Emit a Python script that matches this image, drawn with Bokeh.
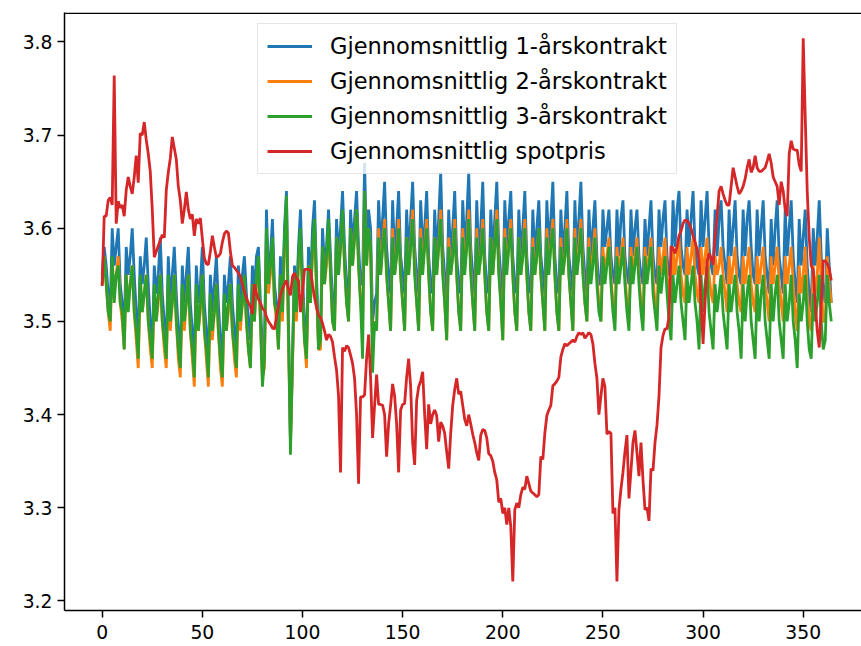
from bokeh.plotting import figure
from bokeh.models import Range1d, Span, Legend, LegendItem, FixedTicker
from bokeh.embed import file_html
from bokeh.resources import INLINE

days = list(range(365))

spot = [
3.538, 3.613, 3.613, 3.630, 3.633, 3.625, 3.764, 3.605, 3.629, 3.622,
3.625, 3.613, 3.641, 3.655, 3.645, 3.637, 3.655, 3.678, 3.649, 3.702,
3.700, 3.714, 3.695, 3.680, 3.661, 3.620, 3.569, 3.575, 3.581, 3.587,
3.593, 3.590, 3.641, 3.660, 3.675, 3.698, 3.686, 3.674, 3.645, 3.630,
3.605, 3.620, 3.639, 3.620, 3.610, 3.615, 3.592, 3.610, 3.605, 3.611,
3.589, 3.568, 3.562, 3.561, 3.575, 3.592, 3.580, 3.569, 3.570, 3.573,
3.585, 3.594, 3.597, 3.595, 3.575, 3.560, 3.558, 3.555, 3.552, 3.548,
3.540, 3.532, 3.525, 3.520, 3.516, 3.508, 3.540, 3.530, 3.524, 3.520,
3.514, 3.512, 3.505, 3.500, 3.497, 3.493, 3.492, 3.505, 3.516, 3.528,
3.535, 3.540, 3.544, 3.535, 3.528, 3.548, 3.552, 3.546, 3.544, 3.510,
3.530, 3.556, 3.556, 3.556, 3.555, 3.540, 3.526, 3.515, 3.507, 3.504,
3.498, 3.490, 3.480, 3.486, 3.484, 3.478, 3.462, 3.448, 3.420, 3.338,
3.472, 3.468, 3.474, 3.472, 3.464, 3.455, 3.439, 3.400, 3.326, 3.419,
3.419, 3.421, 3.460, 3.486, 3.440, 3.375, 3.410, 3.443, 3.411, 3.411,
3.410, 3.400, 3.355, 3.390, 3.410, 3.433, 3.420, 3.390, 3.338, 3.405,
3.411, 3.412, 3.440, 3.460, 3.430, 3.370, 3.346, 3.415, 3.430, 3.436,
3.446, 3.400, 3.363, 3.411, 3.390, 3.400, 3.405, 3.399, 3.371, 3.392,
3.388, 3.380, 3.360, 3.342, 3.380, 3.410, 3.427, 3.439, 3.422, 3.425,
3.410, 3.395, 3.388, 3.400, 3.390, 3.379, 3.370, 3.359, 3.351, 3.378,
3.384, 3.383, 3.375, 3.358, 3.356, 3.350, 3.338, 3.330, 3.306, 3.310,
3.294, 3.300, 3.282, 3.300, 3.280, 3.221, 3.298, 3.305, 3.300, 3.314,
3.322, 3.320, 3.334, 3.326, 3.318, 3.316, 3.314, 3.312, 3.314, 3.355,
3.352, 3.380, 3.399, 3.405, 3.410, 3.431, 3.433, 3.436, 3.440, 3.462,
3.470, 3.476, 3.474, 3.476, 3.478, 3.480, 3.478, 3.484, 3.488, 3.486,
3.488, 3.482, 3.485, 3.488, 3.486, 3.476, 3.455, 3.439, 3.400, 3.420,
3.439, 3.430, 3.379, 3.382, 3.380, 3.294, 3.300, 3.221, 3.298, 3.320,
3.338, 3.360, 3.378, 3.310, 3.340, 3.370, 3.383, 3.359, 3.334, 3.370,
3.330, 3.298, 3.300, 3.286, 3.342, 3.340, 3.370, 3.389, 3.420, 3.472,
3.485, 3.492, 3.492, 3.505, 3.581, 3.578, 3.573, 3.580, 3.592, 3.597,
3.605, 3.609, 3.608, 3.605, 3.600, 3.592, 3.585, 3.578, 3.565, 3.520,
3.476, 3.520, 3.565, 3.573, 3.568, 3.561, 3.590, 3.613, 3.640, 3.645,
3.637, 3.630, 3.625, 3.625, 3.645, 3.665, 3.655, 3.645, 3.637, 3.640,
3.645, 3.653, 3.665, 3.674, 3.660, 3.665, 3.678, 3.665, 3.661, 3.661,
3.663, 3.665, 3.672, 3.680, 3.670, 3.655, 3.650, 3.645, 3.625, 3.650,
3.640, 3.620, 3.613, 3.680, 3.694, 3.685, 3.684, 3.684, 3.668, 3.661,
3.804, 3.720, 3.640, 3.590, 3.560, 3.555, 3.520, 3.490, 3.472, 3.520,
3.565, 3.565, 3.562, 3.557, 3.544,
]

k1 = [
3.55, 3.58, 3.56, 3.53,
3.51, 3.60, 3.56, 3.58, 3.60, 3.54, 3.52,
3.49, 3.58, 3.55, 3.57, 3.60, 3.55, 3.51,
3.48, 3.57, 3.54, 3.56, 3.59, 3.54, 3.50,
3.47, 3.56, 3.53, 3.55, 3.59, 3.53, 3.50,
3.47, 3.57, 3.52, 3.55, 3.58, 3.53, 3.49,
3.46, 3.56, 3.52, 3.55, 3.58, 3.52, 3.49,
3.46, 3.56, 3.52, 3.54, 3.58, 3.52, 3.49,
3.46, 3.55, 3.51, 3.54, 3.57, 3.52, 3.48,
3.46, 3.55, 3.52, 3.54, 3.57, 3.52, 3.49,
3.47, 3.56, 3.52, 3.55, 3.57, 3.53, 3.50,
3.48, 3.56, 3.53, 3.57, 3.58, 3.52, 3.47,
3.46, 3.62, 3.55, 3.57, 3.61, 3.54, 3.52,
3.49, 3.57, 3.52, 3.60, 3.64, 3.50, 3.37,
3.46, 3.56, 3.52, 3.58, 3.62, 3.55, 3.50,
3.47, 3.58, 3.54, 3.60, 3.63, 3.55, 3.48,
3.49, 3.60, 3.56, 3.58, 3.62, 3.57, 3.52,
3.51, 3.61, 3.57, 3.60, 3.64, 3.58, 3.54,
3.52, 3.62, 3.58, 3.61, 3.64, 3.58, 3.54,
3.54, 3.67, 3.58, 3.62, 3.60, 3.50, 3.52,
3.53, 3.63, 3.58, 3.61, 3.65, 3.58, 3.55,
3.53, 3.63, 3.57, 3.60, 3.64, 3.57, 3.55,
3.53, 3.62, 3.57, 3.61, 3.65, 3.58, 3.55,
3.53, 3.63, 3.58, 3.60, 3.64, 3.57, 3.54,
3.53, 3.62, 3.57, 3.61, 3.66, 3.58, 3.55,
3.52, 3.62, 3.57, 3.60, 3.64, 3.57, 3.54,
3.53, 3.63, 3.58, 3.61, 3.66, 3.58, 3.55,
3.53, 3.63, 3.57, 3.60, 3.65, 3.57, 3.54,
3.53, 3.62, 3.57, 3.61, 3.65, 3.58, 3.55,
3.52, 3.63, 3.58, 3.61, 3.64, 3.57, 3.54,
3.53, 3.62, 3.57, 3.60, 3.64, 3.57, 3.54,
3.53, 3.62, 3.57, 3.60, 3.63, 3.57, 3.55,
3.53, 3.63, 3.58, 3.61, 3.65, 3.57, 3.54,
3.53, 3.62, 3.57, 3.60, 3.64, 3.57, 3.55,
3.53, 3.63, 3.57, 3.61, 3.65, 3.58, 3.55,
3.53, 3.62, 3.57, 3.60, 3.63, 3.57, 3.54,
3.54, 3.62, 3.58, 3.60, 3.62, 3.57, 3.55,
3.54, 3.62, 3.57, 3.61, 3.63, 3.57, 3.55,
3.54, 3.62, 3.57, 3.60, 3.62, 3.57, 3.55,
3.54, 3.61, 3.57, 3.60, 3.63, 3.57, 3.55,
3.54, 3.62, 3.58, 3.61, 3.63, 3.57, 3.55,
3.55, 3.63, 3.58, 3.62, 3.64, 3.58, 3.56,
3.55, 3.62, 3.58, 3.61, 3.64, 3.58, 3.56,
3.55, 3.63, 3.58, 3.61, 3.64, 3.58, 3.56,
3.55, 3.62, 3.57, 3.61, 3.63, 3.58, 3.56,
3.54, 3.62, 3.57, 3.60, 3.63, 3.57, 3.55,
3.54, 3.62, 3.57, 3.61, 3.63, 3.58, 3.55,
3.54, 3.62, 3.57, 3.60, 3.63, 3.57, 3.55,
3.53, 3.61, 3.56, 3.60, 3.63, 3.57, 3.55,
3.53, 3.62, 3.57, 3.60, 3.63, 3.57, 3.54,
3.52, 3.61, 3.56, 3.59, 3.62, 3.56, 3.53,
3.51, 3.60, 3.56, 3.59, 3.63, 3.57, 3.53,
3.52, 3.60, 3.56, 3.52,
]

k2 = [
3.54, 3.57, 3.54, 3.51,
3.49, 3.56, 3.53, 3.55, 3.57, 3.52, 3.50,
3.47, 3.55, 3.52, 3.54, 3.56, 3.51, 3.48,
3.45, 3.54, 3.51, 3.53, 3.55, 3.50, 3.47,
3.45, 3.53, 3.50, 3.52, 3.55, 3.50, 3.47,
3.45, 3.54, 3.49, 3.52, 3.55, 3.50, 3.46,
3.44, 3.53, 3.49, 3.52, 3.55, 3.49, 3.46,
3.43, 3.53, 3.49, 3.51, 3.55, 3.49, 3.46,
3.43, 3.52, 3.48, 3.51, 3.54, 3.49, 3.45,
3.43, 3.52, 3.49, 3.51, 3.54, 3.49, 3.46,
3.44, 3.53, 3.49, 3.52, 3.54, 3.50, 3.47,
3.45, 3.53, 3.50, 3.54, 3.56, 3.50, 3.44,
3.45, 3.59, 3.53, 3.55, 3.58, 3.52, 3.50,
3.47, 3.55, 3.50, 3.58, 3.62, 3.48, 3.37,
3.45, 3.54, 3.50, 3.56, 3.59, 3.53, 3.48,
3.45, 3.56, 3.52, 3.57, 3.60, 3.53, 3.47,
3.47, 3.58, 3.54, 3.56, 3.60, 3.55, 3.50,
3.49, 3.59, 3.55, 3.58, 3.61, 3.56, 3.52,
3.50, 3.60, 3.56, 3.59, 3.62, 3.56, 3.52,
3.50, 3.64, 3.56, 3.60, 3.58, 3.47, 3.50,
3.49, 3.60, 3.55, 3.58, 3.61, 3.55, 3.52,
3.49, 3.60, 3.55, 3.57, 3.61, 3.55, 3.52,
3.49, 3.59, 3.55, 3.58, 3.62, 3.56, 3.52,
3.49, 3.60, 3.56, 3.58, 3.61, 3.55, 3.51,
3.49, 3.59, 3.55, 3.58, 3.62, 3.56, 3.52,
3.48, 3.59, 3.55, 3.57, 3.61, 3.55, 3.51,
3.49, 3.60, 3.56, 3.58, 3.62, 3.56, 3.52,
3.49, 3.60, 3.55, 3.57, 3.61, 3.55, 3.51,
3.49, 3.59, 3.55, 3.58, 3.62, 3.56, 3.52,
3.48, 3.60, 3.56, 3.58, 3.61, 3.55, 3.51,
3.49, 3.59, 3.55, 3.57, 3.61, 3.55, 3.51,
3.49, 3.59, 3.55, 3.57, 3.60, 3.55, 3.52,
3.49, 3.60, 3.56, 3.58, 3.61, 3.55, 3.51,
3.49, 3.59, 3.55, 3.57, 3.61, 3.55, 3.52,
3.49, 3.60, 3.55, 3.58, 3.61, 3.56, 3.52,
3.50, 3.59, 3.55, 3.57, 3.60, 3.55, 3.52,
3.50, 3.58, 3.55, 3.57, 3.59, 3.55, 3.52,
3.50, 3.58, 3.55, 3.57, 3.59, 3.55, 3.52,
3.50, 3.58, 3.55, 3.57, 3.59, 3.55, 3.52,
3.50, 3.58, 3.55, 3.57, 3.59, 3.55, 3.52,
3.51, 3.58, 3.55, 3.57, 3.59, 3.55, 3.53,
3.52, 3.58, 3.55, 3.57, 3.59, 3.55, 3.53,
3.52, 3.58, 3.55, 3.57, 3.59, 3.55, 3.53,
3.52, 3.58, 3.55, 3.57, 3.59, 3.55, 3.53,
3.52, 3.57, 3.55, 3.56, 3.58, 3.55, 3.53,
3.51, 3.57, 3.54, 3.56, 3.58, 3.54, 3.52,
3.51, 3.57, 3.54, 3.56, 3.58, 3.54, 3.52,
3.51, 3.57, 3.54, 3.56, 3.58, 3.54, 3.52,
3.50, 3.57, 3.54, 3.56, 3.58, 3.54, 3.52,
3.50, 3.57, 3.54, 3.56, 3.58, 3.54, 3.51,
3.49, 3.56, 3.53, 3.55, 3.58, 3.53, 3.50,
3.49, 3.56, 3.53, 3.55, 3.59, 3.54, 3.50,
3.50, 3.57, 3.54, 3.52,
]

k3 = [
3.54, 3.57, 3.54, 3.51,
3.50, 3.57, 3.52, 3.55, 3.56, 3.52, 3.51,
3.47, 3.55, 3.51, 3.54, 3.56, 3.51, 3.49,
3.46, 3.55, 3.51, 3.53, 3.55, 3.50, 3.48,
3.46, 3.54, 3.50, 3.53, 3.55, 3.50, 3.48,
3.46, 3.55, 3.50, 3.52, 3.55, 3.50, 3.47,
3.45, 3.54, 3.50, 3.52, 3.55, 3.49, 3.47,
3.44, 3.54, 3.49, 3.52, 3.55, 3.49, 3.47,
3.44, 3.53, 3.49, 3.51, 3.54, 3.49, 3.46,
3.44, 3.53, 3.49, 3.52, 3.54, 3.49, 3.47,
3.45, 3.54, 3.50, 3.52, 3.55, 3.50, 3.47,
3.45, 3.54, 3.50, 3.55, 3.57, 3.50, 3.43,
3.46, 3.60, 3.54, 3.56, 3.59, 3.52, 3.51,
3.47, 3.55, 3.51, 3.59, 3.635, 3.49, 3.357,
3.46, 3.55, 3.51, 3.57, 3.60, 3.53, 3.48,
3.46, 3.56, 3.52, 3.58, 3.61, 3.54, 3.47,
3.48, 3.58, 3.54, 3.57, 3.61, 3.55, 3.50,
3.49, 3.59, 3.55, 3.58, 3.62, 3.56, 3.52,
3.50, 3.60, 3.56, 3.59, 3.62, 3.56, 3.52,
3.46, 3.64, 3.56, 3.60, 3.58, 3.445, 3.50,
3.49, 3.59, 3.55, 3.58, 3.60, 3.55, 3.52,
3.49, 3.59, 3.55, 3.57, 3.60, 3.55, 3.52,
3.49, 3.59, 3.55, 3.58, 3.61, 3.55, 3.52,
3.49, 3.59, 3.55, 3.58, 3.60, 3.55, 3.51,
3.49, 3.59, 3.55, 3.58, 3.61, 3.55, 3.52,
3.48, 3.58, 3.55, 3.57, 3.60, 3.55, 3.51,
3.49, 3.59, 3.55, 3.58, 3.61, 3.55, 3.52,
3.49, 3.59, 3.55, 3.57, 3.60, 3.55, 3.51,
3.49, 3.59, 3.55, 3.58, 3.61, 3.55, 3.52,
3.48, 3.59, 3.55, 3.58, 3.60, 3.55, 3.51,
3.49, 3.59, 3.55, 3.57, 3.60, 3.55, 3.51,
3.49, 3.58, 3.55, 3.57, 3.60, 3.55, 3.52,
3.49, 3.59, 3.55, 3.58, 3.60, 3.55, 3.51,
3.49, 3.58, 3.55, 3.57, 3.60, 3.55, 3.52,
3.49, 3.59, 3.55, 3.57, 3.60, 3.55, 3.52,
3.50, 3.58, 3.54, 3.56, 3.59, 3.54, 3.51,
3.50, 3.57, 3.54, 3.56, 3.58, 3.54, 3.51,
3.49, 3.57, 3.54, 3.56, 3.58, 3.54, 3.51,
3.49, 3.57, 3.54, 3.56, 3.58, 3.54, 3.51,
3.49, 3.57, 3.54, 3.56, 3.58, 3.53, 3.51,
3.49, 3.56, 3.53, 3.55, 3.57, 3.53, 3.50,
3.48, 3.55, 3.52, 3.54, 3.56, 3.52, 3.50,
3.48, 3.55, 3.52, 3.54, 3.56, 3.52, 3.50,
3.47, 3.55, 3.51, 3.54, 3.56, 3.51, 3.49,
3.47, 3.54, 3.51, 3.53, 3.55, 3.51, 3.49,
3.47, 3.54, 3.51, 3.53, 3.55, 3.51, 3.49,
3.46, 3.54, 3.50, 3.53, 3.55, 3.50, 3.48,
3.46, 3.54, 3.50, 3.53, 3.55, 3.50, 3.48,
3.46, 3.54, 3.50, 3.53, 3.55, 3.50, 3.48,
3.46, 3.54, 3.50, 3.52, 3.55, 3.50, 3.48,
3.45, 3.53, 3.50, 3.52, 3.55, 3.50, 3.47,
3.46, 3.53, 3.50, 3.52, 3.55, 3.50, 3.47,
3.48, 3.55, 3.52, 3.50,
]

labels = ["Gjennomsnittlig 1-årskontrakt", "Gjennomsnittlig 2-årskontrakt",
          "Gjennomsnittlig 3-årskontrakt", "Gjennomsnittlig spotpris"]
colors = ["#1f77b4", "#ff7f0e", "#2ca02c", "#d62728"]
xticks = [0, 50, 100, 150, 200, 250, 300, 350]
yticks = [3.2, 3.3, 3.4, 3.5, 3.6, 3.7, 3.8]

FONT = "DejaVu Sans"

p = figure(width=861, height=646, output_backend="svg", toolbar_location=None,
           x_range=Range1d(-18.82, 379.1), y_range=Range1d(3.1898, 3.8316),
           min_border_left=64, min_border_right=0, min_border_top=12, min_border_bottom=36)
p.outline_line_color = None
p.grid.visible = False
p.background_fill_color = "white"

renderers = []
for series, c in zip([k1, k2, k3, spot], colors):
    r = p.line(days, series, line_color=c, line_width=2.8)
    renderers.append(r)

top = Span(location=3.8309, dimension="width", line_color="black", line_width=1.5)
p.add_layout(top)

p.xaxis.ticker = FixedTicker(ticks=xticks)
p.yaxis.ticker = FixedTicker(ticks=yticks)
p.yaxis.major_label_overrides = {t: f"{t:.1f}" for t in yticks}
for ax in (p.xaxis[0], p.yaxis[0]):
    ax.axis_line_color = "black"
    ax.axis_line_width = 1.5
    ax.major_tick_line_color = "black"
    ax.major_tick_line_width = 1.5
    ax.major_tick_out = 7
    ax.major_tick_in = 0
    ax.minor_tick_line_color = None
    ax.major_label_text_font = FONT
    ax.major_label_text_font_size = "18.75px"
    ax.major_label_text_color = "black"
p.xaxis.major_label_standoff = 7
p.yaxis.major_label_standoff = 5

legend = Legend(items=[LegendItem(label=l, renderers=[r]) for l, r in zip(labels, renderers)],
                location=(193, 436))
legend.label_text_font = FONT
legend.label_text_font_size = "22.5px"
legend.label_text_color = "black"
legend.glyph_width = 45
legend.glyph_height = 26
legend.label_standoff = 18
legend.spacing = 9
legend.padding = 9
legend.margin = 0
legend.border_line_color = "#cccccc"
legend.border_line_width = 1.5
legend.background_fill_alpha = 0.8
p.add_layout(legend)

open("out.html", "w").write(file_html(p, INLINE))
